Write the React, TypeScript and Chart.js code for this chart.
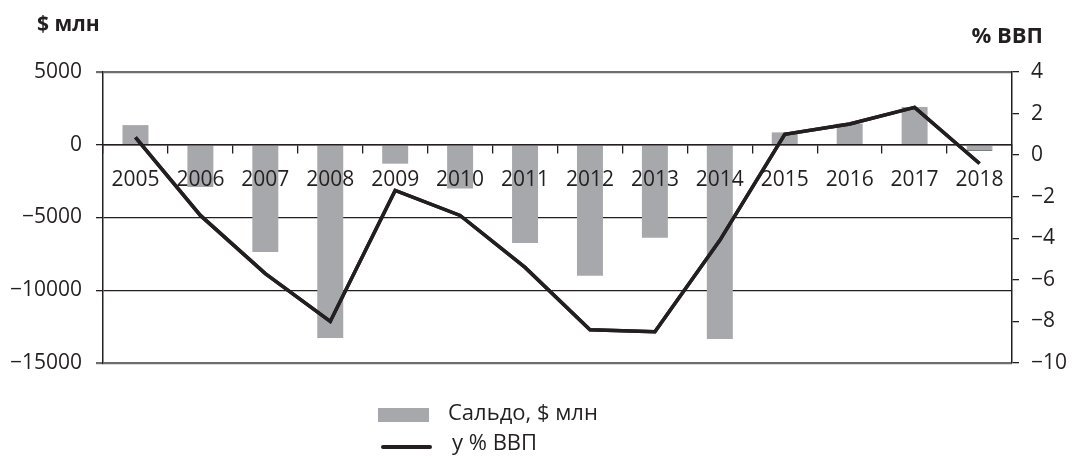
import React, { useEffect, useRef } from 'react';
import { Chart, registerables } from 'chart.js';

Chart.register(...registerables);

const years = ['2005', '2006', '2007', '2008', '2009', '2010', '2011', '2012', '2013', '2014', '2015', '2016', '2017', '2018'];
const balanceMln = [1350, -2900, -7370, -13280, -1300, -3000, -6750, -9000, -6400, -13350, 850, 1450, 2600, -430];
const pctGdp = [0.85, -2.9, -5.7, -8.0, -1.7, -2.9, -5.4, -8.4, -8.5, -4.1, 1.0, 1.5, 2.3, -0.4];
const leftAxis = { min: -15000, max: 5000, step: 5000 };
const rightAxis = { min: -10, max: 4, step: 2 };
const seriesLabels = ['Сальдо, $ млн', 'у % ВВП'];
const leftTitle = '$ млн';
const rightTitle = '% ВВП';

const FONT = '"Open Sans", "Noto Sans", sans-serif';
const INK = '#231f20';
const BAR = '#a7a8ab';

const fmt = (v: number) => (v < 0 ? '\u2212' + Math.abs(v) : String(v));

// Redraw the line dataset on top of the x-axis labels (bars stay beneath them).
const lineOnTop = {
  id: 'lineOnTop',
  afterDraw(chart: any) {
    const meta = chart.getDatasetMeta(0);
    if (meta && meta.controller) {
      const ctx = chart.ctx;
      ctx.save();
      meta.controller.draw();
      ctx.restore();
    }
  },
};

export default function App() {
  const ref = useRef<HTMLCanvasElement | null>(null);

  useEffect(() => {
    if (!ref.current) return;
    const chart = new Chart(ref.current, {
      type: 'bar',
      data: {
        labels: years,
        datasets: [
          {
            type: 'line',
            label: seriesLabels[1],
            data: pctGdp,
            yAxisID: 'y1',
            borderColor: INK,
            borderWidth: 3.5,
            pointRadius: 0,
            tension: 0,
            order: 0,
          } as any,
          {
            type: 'bar',
            label: seriesLabels[0],
            data: balanceMln,
            yAxisID: 'y',
            backgroundColor: BAR,
            borderColor: years.map((_, i) => (i === years.length - 1 ? '#7d7e80' : BAR)),
            borderWidth: years.map((_, i) => (i === years.length - 1 ? 1 : 0)),
            categoryPercentage: 1,
            barPercentage: 0.4,
            order: 1,
          } as any,
        ],
      },
      plugins: [lineOnTop],
      options: {
        animation: false,
        responsive: true,
        maintainAspectRatio: false,
        layout: { padding: { left: 0, right: 0, top: 72, bottom: 94 } },
        plugins: { legend: { display: false }, tooltip: { enabled: false } },
        scales: {
          x: {
            position: { y: 0 } as any,
            offset: true,
            grid: {
              offset: true,
              drawOnChartArea: false,
              drawTicks: true,
              tickLength: 8,
              color: INK,
              lineWidth: 1.3,
              z: 1,
            },
            border: { display: true, color: INK, width: 1.5, z: 1 },
            ticks: {
              color: INK,
              font: { family: FONT, size: 21 },
              padding: 15,
              maxRotation: 0,
              autoSkip: false,
              z: 1,
            },
          },
          y: {
            position: 'left',
            min: leftAxis.min,
            max: leftAxis.max,
            afterBuildTicks: (s: any) => {
              const t = [];
              for (let v = leftAxis.min; v <= leftAxis.max; v += leftAxis.step) t.push({ value: v });
              s.ticks = t;
            },
            afterFit: (s: any) => {
              s.width = 103;
            },
            grid: {
              drawTicks: true,
              tickLength: 7,
              color: (c: any) => {
                const v = c.tick ? c.tick.value : 0;
                return v === leftAxis.max || v === leftAxis.min ? '#6d6e71' : INK;
              },
              lineWidth: (c: any) => {
                const v = c.tick ? c.tick.value : 0;
                return v === leftAxis.max || v === leftAxis.min ? 2.2 : 1.3;
              },
            },
            border: { display: true, color: INK, width: 1.5 },
            ticks: {
              color: INK,
              font: { family: FONT, size: 21 },
              padding: 14,
              callback: (v: any) => fmt(Number(v)),
            },
          },
          y1: {
            position: 'right',
            min: rightAxis.min,
            max: rightAxis.max,
            afterBuildTicks: (s: any) => {
              const t = [];
              for (let v = rightAxis.min; v <= rightAxis.max; v += rightAxis.step) t.push({ value: v });
              s.ticks = t;
            },
            afterFit: (s: any) => {
              s.width = 61;
            },
            grid: {
              drawOnChartArea: false,
              drawTicks: true,
              tickLength: 7,
              color: INK,
              lineWidth: 1.3,
            },
            border: { display: true, color: INK, width: 1.5 },
            ticks: {
              color: INK,
              font: { family: FONT, size: 21 },
              padding: 12,
              callback: (v: any) => fmt(Number(v)),
            },
          },
        },
      },
    });
    return () => chart.destroy();
  }, []);

  const textStyle: React.CSSProperties = {
    position: 'absolute',
    fontFamily: FONT,
    color: INK,
    whiteSpace: 'nowrap',
    lineHeight: 1,
  };

  return (
    <div style={{ position: 'fixed', left: 0, top: 0, width: 1073, height: 457, background: '#fff', overflow: 'hidden' }}>
      <div style={{ position: 'absolute', left: 0, top: 0, width: 1073, height: 457 }}>
        <canvas ref={ref} />
      </div>
      <div style={{ ...textStyle, left: 37, top: 13, fontSize: 21, fontWeight: 700 }}>{leftTitle}</div>
      <div style={{ ...textStyle, right: 30, top: 23, fontSize: 22, fontWeight: 700 }}>{rightTitle}</div>
      <div style={{ position: 'absolute', left: 378, top: 408, width: 51, height: 14, background: BAR }} />
      <div style={{ ...textStyle, left: 448, top: 400, fontSize: 22 }}>{seriesLabels[0]}</div>
      <div style={{ position: 'absolute', left: 381, top: 445, width: 51, height: 4, background: INK, borderRadius: 2 }} />
      <div style={{ ...textStyle, left: 452, top: 430, fontSize: 22 }}>{seriesLabels[1]}</div>
    </div>
  );
}
